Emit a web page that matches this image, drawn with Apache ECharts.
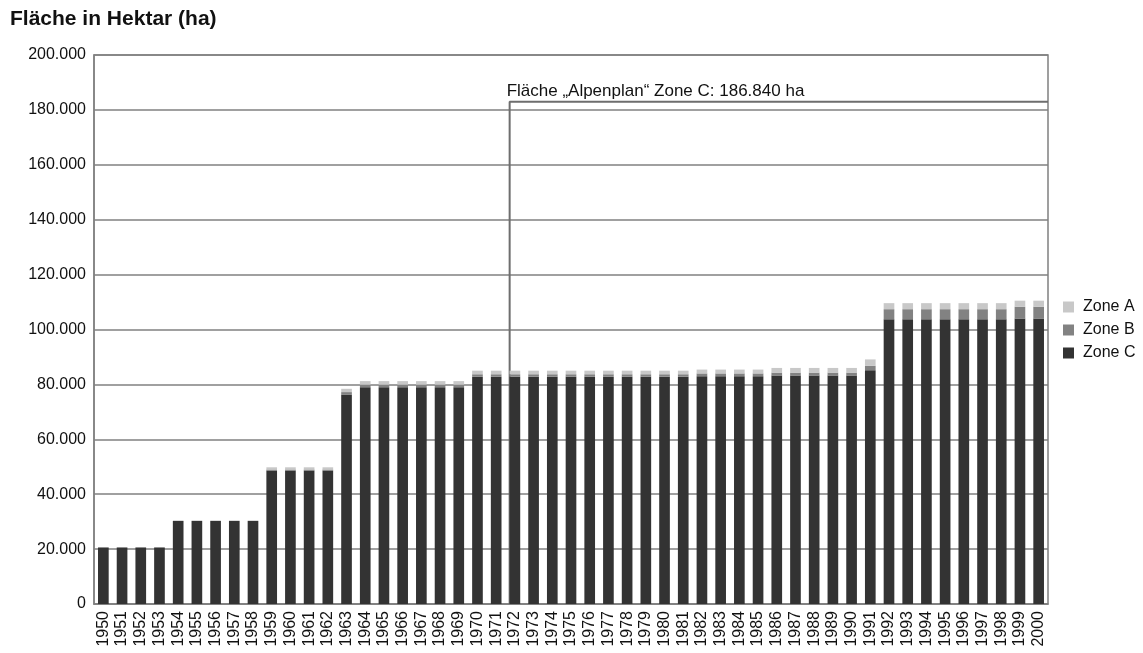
<!DOCTYPE html>
<html><head><meta charset="utf-8">
<script src="https://cdn.jsdelivr.net/npm/echarts@6/dist/echarts.min.js"></script>
<style>html,body{margin:0;padding:0;background:#fff}#c{width:1143px;height:653px}</style>
</head><body><div id="c"></div>
<script>
const years = [];
for (let y = 1950; y <= 2000; y++) years.push(String(y));

const zoneC = [20600,20600,20600,20600,30300,30300,30300,30300,30300,48500,48500,48500,48500,76200,
  79000,79000,79000,79000,79000,79000,
  82800,82800,82800,82800,82800,82800,82800,82800,82800,82800,82800,82800,
  83000,83000,83000,83000,
  83200,83200,83200,83200,83200,
  85200,
  103700,103700,103700,103700,103700,103700,103700,
  104000,104000];
const zoneB = [0,0,0,0,0,0,0,0,0,500,500,500,500,1000,
  900,900,900,900,900,900,
  900,900,900,900,900,900,900,900,900,900,900,900,
  1000,1000,1000,1000,
  1100,1100,1100,1100,1100,
  1600,
  3700,3700,3700,3700,3700,3700,3700,
  4300,4300];
const zoneA = [0,0,0,0,0,0,0,0,0,800,800,800,800,1200,
  1300,1300,1300,1300,1300,1300,
  1300,1300,1300,1300,1300,1300,1300,1300,1300,1300,1300,1300,
  1400,1400,1400,1400,
  1700,1700,1700,1700,1700,
  2300,
  2200,2200,2200,2200,2200,2200,2200,
  2200,2200];
const yTicks = [0,20000,40000,60000,80000,100000,120000,140000,160000,180000,200000];
const annotationText = 'Fläche „Alpenplan“ Zone C: 186.840 ha';
const annotationStartYear = '1972';
const annotationLevel = 183000; // drawn position

const fmt = v => String(v).replace(/\B(?=(\d{3})+(?!\d))/g, '.');
const startIdx = years.indexOf(annotationStartYear) + 0.22;
const annotationPath = [[startIdx, 0], [startIdx, annotationLevel], [years.length, annotationLevel]];

const chart = echarts.init(document.getElementById('c'), null, {renderer: 'canvas'});
const font = 'Liberation Sans, Arial, sans-serif';
chart.setOption({
  animation: false,
  textStyle: {fontFamily: font},
  title: {text: 'Fläche in Hektar (ha)', left: 5, top: 4,
    textStyle: {fontFamily: font, fontSize: 21, fontWeight: 'bold', color: '#111'}},
  legend: {orient: 'vertical', left: 1058, top: 294, itemGap: 7, itemWidth: 11, itemHeight: 11,
    icon: 'rect', data: ['Zone A', 'Zone B', 'Zone C'],
    textStyle: {fontFamily: font, fontSize: 16, color: '#111', padding: [0,0,0,4]}},
  grid: {left: 94, right: 95, top: 55, bottom: 49, show: true, borderColor: '#808080', borderWidth: 1.5},
  xAxis: [{
    type: 'category', data: years, boundaryGap: true,
    axisLine: {lineStyle: {color: '#808080', width: 1.5}},
    axisTick: {show: false},
    axisLabel: {rotate: 90, fontSize: 16, color: '#111', margin: 7, interval: 0, fontFamily: font}
  }, {
    type: 'value', min: 0, max: years.length, show: false
  }],
  yAxis: {
    type: 'value', min: yTicks[0], max: yTicks[yTicks.length - 1], interval: yTicks[1] - yTicks[0],
    axisLine: {show: true, lineStyle: {color: '#808080', width: 1.5}},
    axisTick: {show: false},
    splitLine: {lineStyle: {color: '#808080', width: 1.5}},
    axisLabel: {fontSize: 16, color: '#111', margin: 8, formatter: fmt, fontFamily: font}
  },
  series: [
    {name: 'Zone C', type: 'bar', stack: 'z', data: zoneC, barCategoryGap: '43%', itemStyle: {color: '#333333'}, z: 3},
    {name: 'Zone B', type: 'bar', stack: 'z', data: zoneB, itemStyle: {color: '#828282'}, z: 3},
    {name: 'Zone A', type: 'bar', stack: 'z', data: zoneA, itemStyle: {color: '#c8c8c8'}, z: 3},
    {name: 'annotation', type: 'line', xAxisIndex: 1, data: annotationPath, z: 1,
      symbol: 'circle', symbolSize: 0, silent: true,
      lineStyle: {color: '#6e6e6e', width: 2},
      label: {show: false},
      emphasis: {disabled: true},
      markPoint: {
        symbol: 'circle', symbolSize: 0, silent: true,
        data: [{coord: annotationPath[1], value: 0}],
        label: {show: true, formatter: annotationText, position: 'top', align: 'left',
          distance: 2, offset: [-3, 0], fontSize: 17, color: '#111', fontFamily: font}
      }
    }
  ]
});
</script></body></html>
